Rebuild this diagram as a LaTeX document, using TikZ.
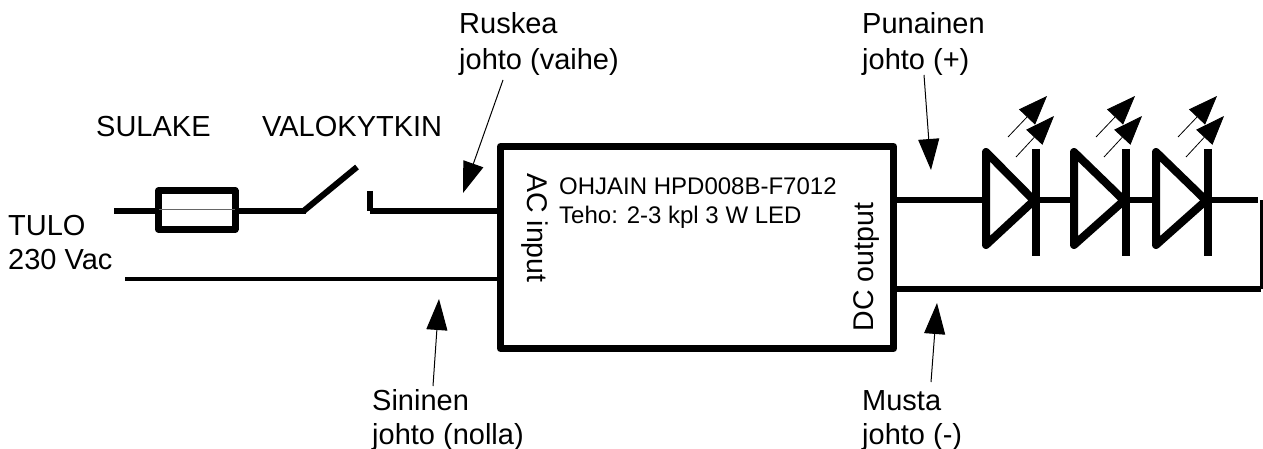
\documentclass[tikz,border=0pt]{standalone}
\usepackage{fontspec}
\setmainfont{Liberation Sans}
\usetikzlibrary{arrows.meta}
\tikzset{
    wire/.style={line width=6pt},
    thinwire/.style={line width=4.5pt},
    ledline/.style={line width=8pt, line join=round},
    pointer/.style={line width=1pt, -{Triangle[length=31pt,width=21pt]}},
    lightray/.style={line width=0.8pt, -{Triangle[length=29pt,width=22pt]}},
    label/.style={font=\fontsize{29}{34}\selectfont, anchor=base west, inner sep=0pt},
    small/.style={font=\fontsize{24}{28}\selectfont, inner sep=0pt},
    sidetext/.style={font=\fontsize{28.5}{34}\selectfont, inner sep=0pt},
    part/.style={draw, line width=7pt, line join=round, inner sep=0pt, outer sep=0pt}
}
\begin{document}
\begin{tikzpicture}[x=1pt,y=-1pt]
    \useasboundingbox (0,0) rectangle (1263,449);

    % Driver box
    \node[part, minimum width=393pt, minimum height=202pt] (ohjain) at (697,247.5) {};
    \node[small, anchor=base west] (malli) at (559,195) {OHJAIN HPD008B-F7012};
    \node[small, anchor=base west] (teho) at (559,223) {Teho: 2-3 kpl 3 W LED};
    \node[sidetext, rotate=-90] (acin) at (535,228) {AC input};
    \node[sidetext, rotate=90] (dcout) at (866,267) {DC output};

    % Fuse
    \node[part, minimum width=76.5pt, minimum height=38.5pt] (fuse) at (196.75,210) {};
    \draw[line width=1pt, black!60] (fuse.west) -- (fuse.east);

    % Mains side
    \coordinate (tuloa) at (114,211.5);
    \coordinate (tulob) at (125,279);
    \coordinate (swa) at (306,211.5);
    \coordinate (swtip) at (357,167);
    \coordinate (swtop) at (370,191);
    \coordinate (swb) at (370,211.5);
    \draw[wire] (tuloa) -- (fuse.west |- tuloa);
    \draw[wire] (fuse.east |- tuloa) -- (swa);
    \draw[wire] (swa) ++(-3,0) -- (swtip);
    \draw[wire] (swtop) -- (swb);
    \draw[wire] (swb) -- (ohjain.west |- swb);
    \draw[thinwire] (tulob) -- (ohjain.west |- tulob);

    % LED chain
    \coordinate (dca) at (897,200.5);
    \coordinate (dcb) at (897,289);
    \coordinate (dcend) at (1258,200.5);
    \coordinate (dcturn) at (1261,289);
    \draw[wire] (dca) -- (dcend);
    \draw[wire] (dcb) -- (dcturn);
    \draw[line width=3pt] (1261,200.5) -- (dcturn);
    \foreach \ledx/\barx/\rayx in {986/1036/0, 1074/1126/88, 1156/1208/170} {
        \fill[white] (\ledx,152) -- (\barx-2,200.5) -- (\ledx,245) -- cycle;
        \draw[ledline] (\ledx,152) -- (\barx-2,200.5) -- (\ledx,245) -- cycle;
        \draw[line width=8pt] (\barx,149) -- (\barx,256);
        \draw[lightray] (1008+\rayx,137) -- (1047+\rayx,96);
        \draw[lightray] (1016+\rayx,157) -- (1054+\rayx,116);
    }

    % Labels
    \node[label] (sulake) at (96,137) {SULAKE};
    \node[label] (valo) at (262,137) {VALOKYTKIN};
    \node[label] (tulo) at (8,236) {TULO};
    \node[label] (vac) at (8,269) {230 Vac};
    \node[label] (ruskea) at (459,34) {Ruskea};
    \node[label] (vaihe) at (459,70) {johto (vaihe)};
    \node[label] (punainen) at (862,34) {Punainen};
    \node[label] (plus) at (862,70) {johto (+)};
    \node[label] (sininen) at (372,410) {Sininen};
    \node[label] (nolla) at (372,444) {johto (nolla)};
    \node[label] (musta) at (862,410) {Musta};
    \node[label] (miinus) at (862,444) {johto (-)};

    % Pointers
    \coordinate (ptra) at (503,80);
    \coordinate (ptrb) at (463,193);
    \coordinate (ptrc) at (924,75);
    \coordinate (ptrd) at (931,170);
    \coordinate (ptre) at (433,386);
    \coordinate (ptrf) at (439,299);
    \coordinate (ptrg) at (931,382);
    \coordinate (ptrh) at (937,303);
    \draw[pointer] (ptra) -- (ptrb);
    \draw[pointer] (ptrc) -- (ptrd);
    \draw[pointer] (ptre) -- (ptrf);
    \draw[pointer] (ptrg) -- (ptrh);
\end{tikzpicture}
\end{document}
